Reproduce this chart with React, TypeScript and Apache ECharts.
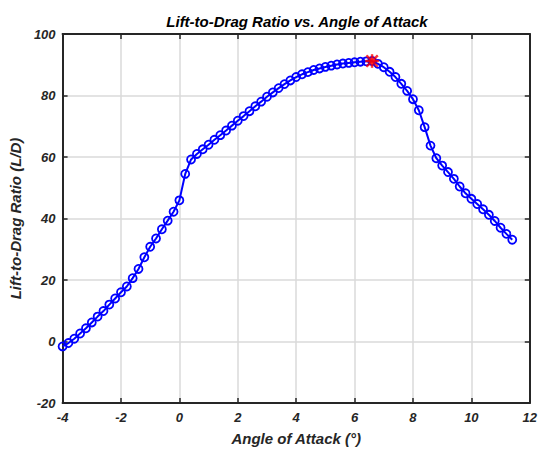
import React, { useEffect, useRef } from "react";
import * as echarts from "echarts";

// Angle of attack in degrees, 0.2° steps
const angles = [
  -4, -3.8, -3.6, -3.4, -3.2, -3, -2.8, -2.6, -2.4, -2.2, -2, -1.8, -1.6, -1.4, -1.2, -1, -0.8, -0.6, -0.4, -0.2,
  0, 0.2, 0.4, 0.6, 0.8, 1, 1.2, 1.4, 1.6, 1.8, 2, 2.2, 2.4, 2.6, 2.8, 3, 3.2, 3.4, 3.6, 3.8,
  4, 4.2, 4.4, 4.6, 4.8, 5, 5.2, 5.4, 5.6, 5.8, 6, 6.2, 6.4, 6.6, 6.8, 7, 7.2, 7.4, 7.6, 7.8,
  8, 8.2, 8.4, 8.6, 8.8, 9, 9.2, 9.4, 9.6, 9.8, 10, 10.2, 10.4, 10.6, 10.8, 11, 11.2, 11.4,
];

// Lift-to-drag ratio at each angle
const liftToDrag = [
  -1.6, -0.5, 0.9, 2.6, 4.3, 6.2, 8.1, 9.9, 12.0, 14.0, 16.0, 17.9, 20.6, 23.6, 27.4, 30.8, 33.5, 36.5, 39.3, 42.2,
  45.9, 54.5, 59.2, 61.0, 62.5, 64.0, 65.6, 67.1, 68.6, 70.2, 71.8, 73.3, 74.9, 76.5, 78.0, 79.6, 81.0, 82.4, 83.7, 84.9,
  86.0, 86.9, 87.6, 88.3, 88.8, 89.3, 89.7, 90.1, 90.4, 90.6, 90.8, 91.0, 91.1, 91.2, 90.3, 89.2, 87.7, 86.0, 83.8, 81.5,
  78.8, 75.2, 69.7, 63.7, 59.6, 57.2, 55.1, 52.9, 50.4, 48.2, 46.4, 44.7, 43.0, 41.2, 39.2, 37.0, 35.0, 33.1,
];

const xTicks = { min: -4, max: 12, interval: 2 };
const yTicks = { min: -20, max: 100, interval: 20 };

const FONT = "'Liberation Sans', Arial, Helvetica, sans-serif";
const AXIS_COLOR = "#262626";
const GRID_COLOR = "#dadada";

// Asterisk marker: four crossing bars, all wound clockwise
const ASTERISK =
  "path://M0 8.5 L20 8.5 L20 11.5 L0 11.5 Z " +
  "M8.5 0 L11.5 0 L11.5 20 L8.5 20 Z " +
  "M2.56 0.44 L19.56 17.44 L17.44 19.56 L0.44 2.56 Z " +
  "M19.56 2.56 L2.56 19.56 L0.44 17.44 L17.44 0.44 Z";

export default function App() {
  const ref = useRef<HTMLDivElement>(null);

  useEffect(() => {
    if (!ref.current) return;
    const chart = echarts.init(ref.current, undefined, { renderer: "svg" });

    const curve = angles.map((a, i) => [a, liftToDrag[i]]);
    let peakIdx = 0;
    liftToDrag.forEach((v, i) => {
      if (v > liftToDrag[peakIdx]) peakIdx = i;
    });

    const labelStyle = {
      color: AXIS_COLOR,
      fontSize: 13,
      fontWeight: "bold" as const,
      fontStyle: "italic" as const,
      fontFamily: FONT,
    };
    const nameStyle = {
      color: AXIS_COLOR,
      fontSize: 15,
      fontWeight: "bold" as const,
      fontStyle: "italic" as const,
      fontFamily: FONT,
    };
    const frameLine = { show: true, onZero: false, lineStyle: { color: AXIS_COLOR, width: 2 } };
    const innerTick = { show: true, inside: true, length: 5, lineStyle: { color: AXIS_COLOR, width: 1.5 } };
    const grid = { show: true, lineStyle: { color: GRID_COLOR, width: 1.5 } };

    chart.setOption({
      animation: false,
      backgroundColor: "#ffffff",
      title: {
        text: "Lift-to-Drag Ratio vs. Angle of Attack",
        left: 292,
        top: 9,
        textAlign: "center",
        textStyle: { color: "#000", fontSize: 15, fontWeight: "bold", fontStyle: "italic", fontFamily: FONT },
      },
      grid: { left: 62, right: 10, top: 34, bottom: 47, containLabel: false },
      xAxis: [
        {
          type: "value",
          position: "bottom",
          ...xTicks,
          axisLine: frameLine,
          axisTick: innerTick,
          axisLabel: { ...labelStyle, margin: 8 },
          splitLine: grid,
          name: "Angle of Attack (°)",
          nameLocation: "middle",
          nameGap: 28,
          nameTextStyle: nameStyle,
        },
        {
          type: "value",
          position: "top",
          ...xTicks,
          axisLine: frameLine,
          axisTick: innerTick,
          axisLabel: { show: false },
          splitLine: { show: false },
        },
      ],
      yAxis: [
        {
          type: "value",
          position: "left",
          ...yTicks,
          axisLine: frameLine,
          axisTick: innerTick,
          axisLabel: { ...labelStyle, margin: 7 },
          splitLine: grid,
          name: "Lift-to-Drag Ratio (L/D)",
          nameLocation: "middle",
          nameGap: 34,
          nameTextStyle: nameStyle,
        },
        {
          type: "value",
          position: "right",
          ...yTicks,
          axisLine: frameLine,
          axisTick: innerTick,
          axisLabel: { show: false },
          splitLine: { show: false },
        },
      ],
      series: [
        {
          type: "line",
          data: curve,
          symbol: "circle",
          symbolSize: 8,
          showAllSymbol: true,
          lineStyle: { color: "#0000ff", width: 2 },
          itemStyle: { color: "rgba(0,0,0,0)", borderColor: "#0000ff", borderWidth: 1.8 },
          z: 3,
        },
        {
          type: "scatter",
          data: [[angles[peakIdx], liftToDrag[peakIdx]]],
          symbol: ASTERISK,
          symbolSize: 13,
          itemStyle: { color: "#ff0000", borderColor: "#ff0000", borderWidth: 0.5 },
          z: 4,
        },
      ],
    });

    return () => chart.dispose();
  }, []);

  return (
    <div
      ref={ref}
      style={{ position: "absolute", left: 0, top: 0, width: 540, height: 451 }}
    />
  );
}
